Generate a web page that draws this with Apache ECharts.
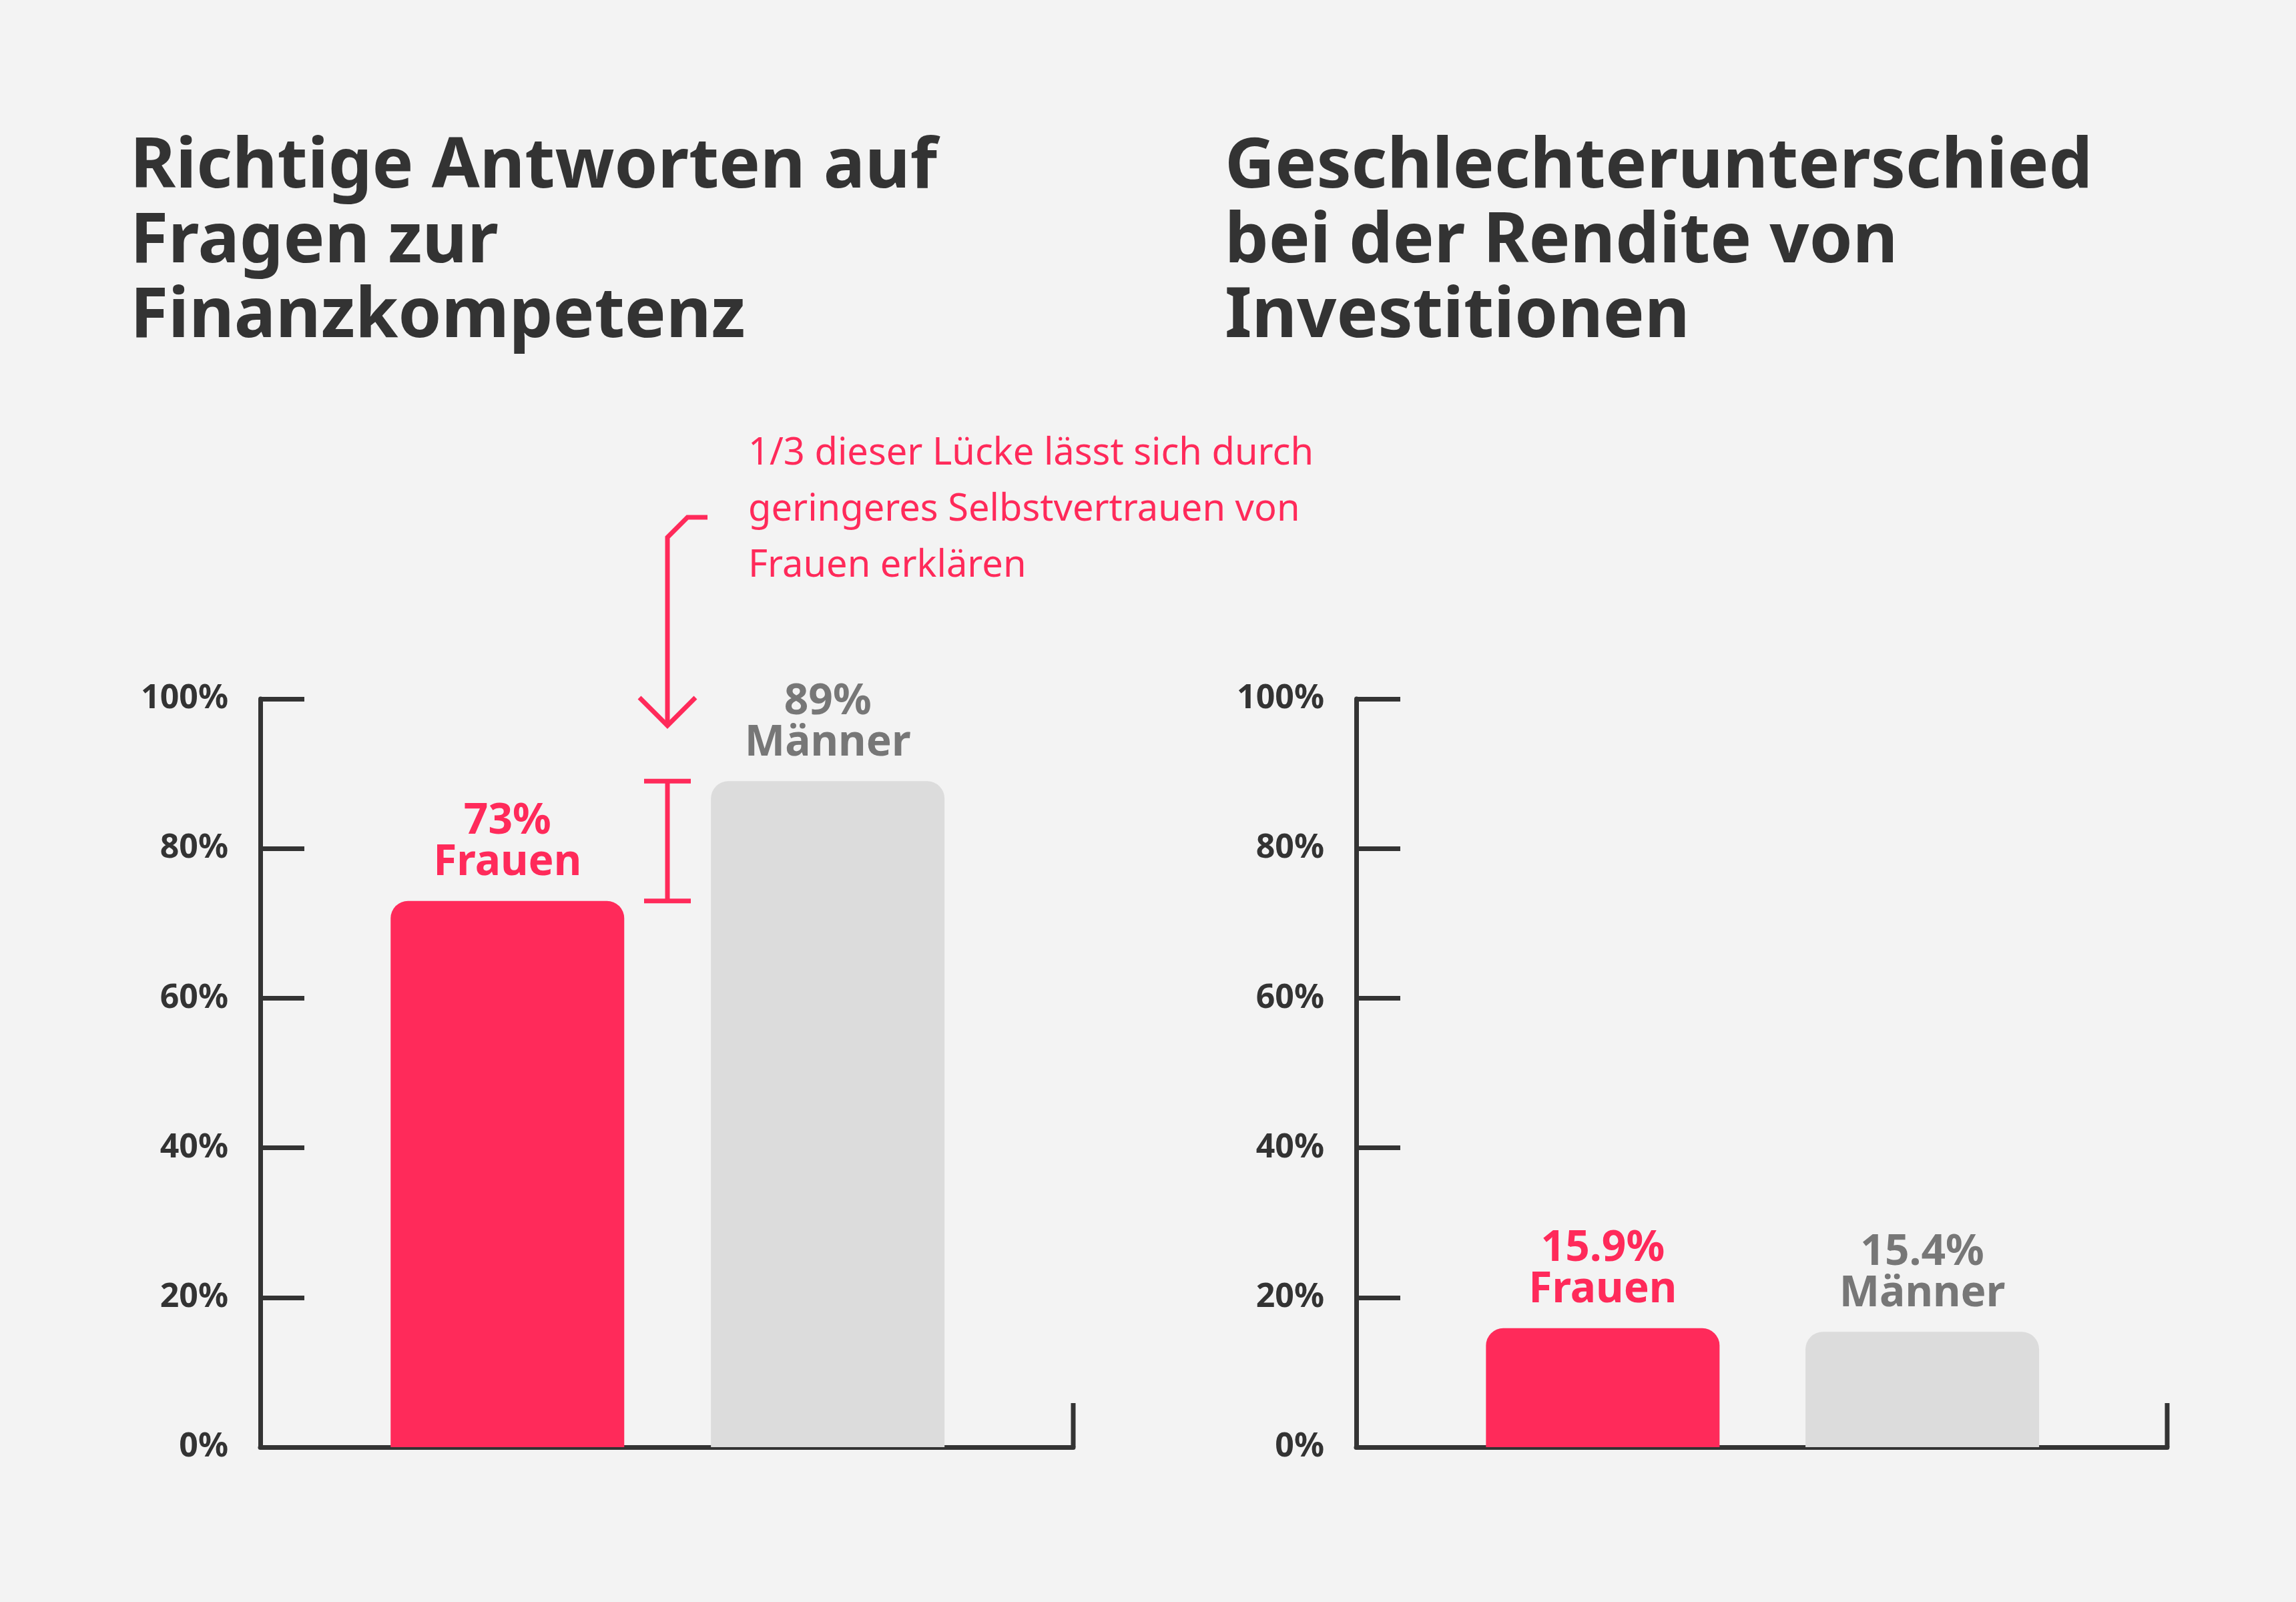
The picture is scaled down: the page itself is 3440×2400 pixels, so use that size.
<!DOCTYPE html>
<html lang="de">
<head>
<meta charset="UTF-8">
<title>Finanzkompetenz</title>
<script src="https://cdn.jsdelivr.net/npm/echarts@6/dist/echarts.min.js"></script>
<style>html,body{margin:0;background:#f3f3f3}</style>
</head>
<body>
<div id="main" style="width:3440px;height:2400px;"></div>
<script>
// data
var leftLabels = ['Frauen', 'Männer'];
var leftValues = [73, 89];
var rightLabels = ['Frauen', 'Männer'];
var rightValues = [15.9, 15.4];
var rightText = ['15.9%', '15.4%'];
var yTicks = [0, 20, 40, 60, 80, 100];

var barX = [30.4, 69.8]; // bar centres along the x axis (0..100)
var RED = '#ff2a5a', GREY = '#dcdcdc', INK = '#333';
var FONT = '"Noto Sans", sans-serif';

var chart = echarts.init(document.getElementById('main'));

function yAxis(i) {
    return {
        gridIndex: i, type: 'value', min: 0, max: 100, interval: 20,
        axisLine: {show: true, lineStyle: {color: INK, width: 7}},
        axisTick: {show: true, inside: true, length: 66, lineStyle: {color: INK, width: 7}},
        axisLabel: {formatter: '{value}%', fontSize: 50, fontWeight: 'bold', color: INK, fontFamily: FONT, margin: 48},
        splitLine: {show: false}
    };
}
function xAxis(i) {
    return {
        gridIndex: i, type: 'value', min: 0, max: 100,
        axisLine: {show: true, onZero: false, lineStyle: {color: INK, width: 7}},
        axisTick: {show: false}, axisLabel: {show: false}, splitLine: {show: false}
    };
}
function series(i, values, labels, texts) {
    return {
        type: 'bar', xAxisIndex: i, yAxisIndex: i, barWidth: 350,
        data: values.map(function (v, k) {
            var c = k === 0 ? RED : '#777';
            return {
                value: [barX[k], v],
                itemStyle: {color: k === 0 ? RED : GREY, borderRadius: [26, 26, 0, 0]},
                label: {
                    show: true, position: 'top', distance: 26,
                    formatter: texts[k] + '\n' + labels[k],
                    color: c, fontSize: 64, fontWeight: 'bold', fontFamily: FONT, lineHeight: 62
                }
            };
        })
    };
}

var titleStyle = {fontSize: 104, fontWeight: 'bold', color: INK, fontFamily: FONT, lineHeight: 112};

chart.setOption({
    backgroundColor: '#f3f3f3',
    animation: false,
    title: [
        {text: 'Richtige Antworten auf\nFragen zur\nFinanzkompetenz', left: 190, top: 190, textStyle: titleStyle},
        {text: 'Geschlechterunterschied\nbei der Rendite von\nInvestitionen', left: 1830, top: 190, textStyle: titleStyle}
    ],
    grid: [
        {left: 390, top: 1047, width: 1218, height: 1121},
        {left: 2032, top: 1047, width: 1215, height: 1121}
    ],
    xAxis: [xAxis(0), xAxis(1)],
    yAxis: [yAxis(0), yAxis(1)],
    series: [
        series(0, leftValues, leftLabels, leftValues.map(function (v) { return v + '%'; })),
        series(1, rightValues, rightLabels, rightText)
    ]
});

// annotation: gap bracket, arrow, note, axis end ticks
var top89 = chart.convertToPixel({gridIndex: 0}, [0, leftValues[1]])[1];
var top73 = chart.convertToPixel({gridIndex: 0}, [0, leftValues[0]])[1];
var bx = 1000;
var ls = {stroke: RED, lineWidth: 7, fill: null};
var endTick = {stroke: INK, lineWidth: 7};
chart.setOption({
    graphic: [
        {type: 'line', shape: {x1: bx, y1: top89, x2: bx, y2: top73}, style: ls},
        {type: 'line', shape: {x1: bx - 35, y1: top89, x2: bx + 35, y2: top89}, style: ls},
        {type: 'line', shape: {x1: bx - 35, y1: top73, x2: bx + 35, y2: top73}, style: ls},
        {type: 'polyline', shape: {points: [[1060, 775], [1030, 775], [1000, 805], [1000, 1085]]}, style: ls},
        {type: 'polyline', shape: {points: [[958, 1045], [1000, 1087], [1042, 1045]]}, style: ls},
        {type: 'line', shape: {x1: 1608, y1: 2168, x2: 1608, y2: 2102}, style: endTick},
        {type: 'line', shape: {x1: 3247, y1: 2168, x2: 3247, y2: 2102}, style: endTick},
        {type: 'text', left: 1121, top: 638, style: {
            text: '1/3 dieser Lücke lässt sich durch\ngeringeres Selbstvertrauen von\nFrauen erklären',
            fill: RED, fontSize: 56, lineHeight: 84, fontFamily: FONT
        }}
    ]
});
</script>
</body>
</html>
